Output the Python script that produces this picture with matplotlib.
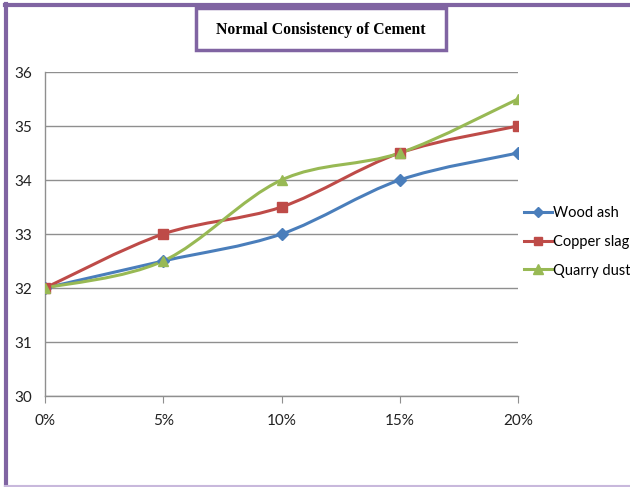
import matplotlib.pyplot as plt
import matplotlib.patches as mpatches
from matplotlib.path import Path
from matplotlib.lines import Line2D

# ---------------- data ----------------
categories = ["0%", "5%", "10%", "15%", "20%"]
wood_ash = [32, 32.5, 33, 34, 34.5]
copper_slag = [32, 33, 33.5, 34.5, 35]
quarry_dust = [32, 32.5, 34, 34.5, 35.5]
y_ticks = [30, 31, 32, 33, 34, 35, 36]

series = [
    ("Wood ash", wood_ash, "#4A7EBB", "D", 6),
    ("Copper slag", copper_slag, "#BE4B48", "s", 6.5),
    ("Quarry dust", quarry_dust, "#98B954", "^", 7.5),
]

label_font = ["Lato", "DejaVu Sans"]


def smooth_path(xs, ys):
    # Excel-like smoothed line: cubic bezier segments (catmull-rom control points)
    pts = list(zip(xs, ys))
    n = len(pts)
    verts = [pts[0]]
    codes = [Path.MOVETO]
    for i in range(n - 1):
        p0 = pts[i - 1] if i > 0 else pts[i]
        p1 = pts[i]
        p2 = pts[i + 1]
        p3 = pts[i + 2] if i + 2 < n else pts[i + 1]
        c1 = (p1[0] + (p2[0] - p0[0]) / 6, p1[1] + (p2[1] - p0[1]) / 6)
        c2 = (p2[0] - (p3[0] - p1[0]) / 6, p2[1] - (p3[1] - p1[1]) / 6)
        verts += [c1, c2, p2]
        codes += [Path.CURVE4] * 3
    return Path(verts, codes)


fig = plt.figure(figsize=(6.3, 4.87), dpi=100)
ax = fig.add_axes([45 / 630, 1 - 396 / 487, (518 - 45) / 630, (396 - 72) / 487])

x = list(range(len(categories)))
handles = []
for name, vals, color, marker, ms in series:
    patch = mpatches.PathPatch(smooth_path(x, vals), facecolor="none",
                               edgecolor=color, lw=2.2, zorder=3)
    ax.add_patch(patch)
    ax.plot(x, vals, linestyle="none", marker=marker, color=color,
            markersize=ms, zorder=4)
    handles.append(Line2D([0], [0], color=color, lw=2.2, marker=marker,
                          markersize=ms - 1, label=name))

ax.set_xlim(0, 4)
ax.set_ylim(30, 36)
ax.set_yticks(y_ticks)
ax.set_xticks(x)
ax.set_xticklabels(categories, family=label_font, fontsize=11)
ax.set_yticklabels([str(v) for v in y_ticks], family=label_font, fontsize=11)
ax.grid(axis="y", color="#8f8f8f", lw=1)
ax.set_axisbelow(True)
for s in ["top", "right"]:
    ax.spines[s].set_visible(False)
for s in ["left", "bottom"]:
    ax.spines[s].set_color("#8f8f8f")
    ax.spines[s].set_linewidth(1)
ax.tick_params(axis="y", length=0, pad=9, colors="#222222")
ax.tick_params(axis="x", length=5, color="#8f8f8f", pad=8, labelcolor="#222222")

ax.legend(handles=handles, loc="center left", bbox_to_anchor=(524 / 630, 1 - 242 / 487),
          bbox_transform=fig.transFigure, frameon=False, handlelength=1.9,
          handletextpad=0.1, labelspacing=1.0, borderaxespad=0, borderpad=0,
          prop={"family": label_font, "size": 10.5})

# title box
fig.patches.append(mpatches.Rectangle((196 / 630, 1 - 50 / 487), 250 / 630, 42 / 487,
                                      transform=fig.transFigure, facecolor="white",
                                      edgecolor="#8064A2", lw=2.5))
fig.text(321 / 630, 1 - 30 / 487, "Normal Consistency of Cement",
         family="Liberation Serif", weight="bold", fontsize=11.3,
         ha="center", va="center")

# outer border
fig.lines.append(Line2D([5 / 630, 1], [1 - 5 / 487, 1 - 5 / 487], transform=fig.transFigure,
                        color="#8064A2", lw=3))
fig.lines.append(Line2D([6 / 630, 6 / 630], [0, 1 - 4 / 487], transform=fig.transFigure,
                        color="#8064A2", lw=3))
fig.lines.append(Line2D([5 / 630, 1], [1 / 487, 1 / 487], transform=fig.transFigure,
                        color="#C8B8DC", lw=1.5))

fig.savefig("out.png", dpi=100)
